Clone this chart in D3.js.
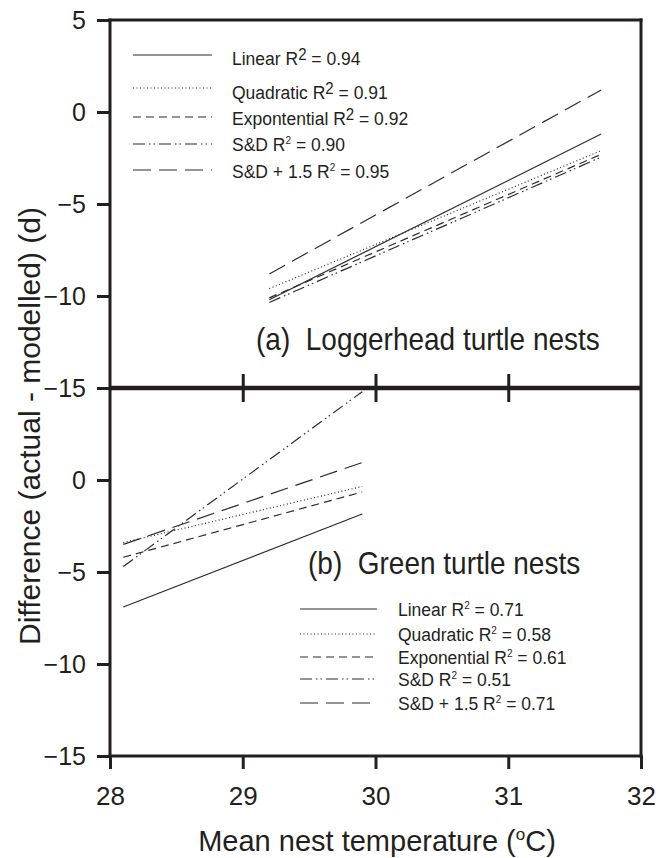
<!DOCTYPE html>
<html>
<head>
<meta charset="utf-8">
<script src="https://cdn.jsdelivr.net/npm/d3@7"></script>
<style>
  body { margin: 0; background: #fff }
  svg { display: block; font-family: 'Liberation Sans', Arial, sans-serif }
  text { fill: #231f20 }
</style>
</head>
<body>
<svg id="chart" width="658" height="858"></svg>
<script>
var xTicks = [28, 29, 30, 31, 32]
var yTicksTop = [5, 0, -5, -10, -15]
var yTicksBottom = [0, -5, -10, -15]

var modelsTop = ['Linear', 'Quadratic', 'Expontential', 'S&D', 'S&D + 1.5']
var modelsBottom = ['Linear', 'Quadratic', 'Exponential', 'S&D', 'S&D + 1.5']
var r2Top = ['0.94', '0.91', '0.92', '0.90', '0.95']
var r2Bottom = ['0.71', '0.58', '0.61', '0.51', '0.71']

// (a) loggerhead: fitted lines, value at each end temperature
var loggerheadTemp = [29.2, 31.7]
var loggerheadLinear = [-10.2, -1.2]
var loggerheadQuadratic = [-9.6, -2.1]
var loggerheadExponential = [-10.1, -2.3]
var loggerheadSD = [-10.35, -2.45]
var loggerheadSD15 = [-8.8, 1.2]

// (b) green turtle
var greenTemp = [28.1, 29.9]
var greenLinear = [-6.9, -1.85]
var greenQuadratic = [-3.4, -0.35]
var greenExponential = [-4.2, -0.65]
var greenSD = [-4.7, 4.8]
var greenSD15 = [-3.5, 0.95]

var DASHES = [null, '1,2.5', '8,5', '12,4,1.5,3,1.5,4', '18,8']
var INK = '#231f20'
var STRETCH = 1.15

var svg = d3.select('#chart')
var x = d3.scaleLinear().domain([28, 32]).range([110, 641])
var yTop = d3.scaleLinear().domain([-15, 5]).range([388, 20])
var yBottom = d3.scaleLinear().domain([-15, 5]).range([756, 388])

function drawFits (y, temps, series) {
  var line = d3.line()
    .x(function (d) { return x(d[0]) })
    .y(function (d) { return y(d[1]) })
  series.forEach(function (values, i) {
    var pts = temps.map(function (t, j) { return [t, values[j]] })
    svg.append('path').datum(pts)
      .attr('d', line)
      .attr('fill', 'none')
      .attr('stroke', '#2b2b2b')
      .attr('stroke-width', 1.2)
      .attr('stroke-dasharray', DASHES[i])
  })
}

drawFits(yTop, loggerheadTemp, [loggerheadLinear, loggerheadQuadratic, loggerheadExponential, loggerheadSD, loggerheadSD15])
drawFits(yBottom, greenTemp, [greenLinear, greenQuadratic, greenExponential, greenSD, greenSD15])

function styleAxis (g, size) {
  g.attr('font-size', null).attr('font-family', null)
  g.select('.domain').remove()
  g.selectAll('.tick line').attr('stroke', INK).attr('stroke-width', 3)
  g.selectAll('.tick text').attr('font-size', size).attr('fill', INK)
}

svg.append('g').attr('transform', 'translate(110,0)')
  .call(d3.axisLeft(yTop).tickValues(yTicksTop).tickSize(13).tickPadding(11))
  .call(styleAxis, 25)
svg.append('g').attr('transform', 'translate(110,0)')
  .call(d3.axisLeft(yBottom).tickValues(yTicksBottom).tickSize(13).tickPadding(11))
  .call(styleAxis, 25)

svg.append('g').attr('transform', 'translate(0,756)')
  .call(d3.axisBottom(x).tickValues(xTicks).tickSize(13).tickPadding(18).tickFormat(d3.format('d')))
  .call(styleAxis, 26)

// ticks crossing the shared middle line
svg.append('g').attr('transform', 'translate(0,388)')
  .call(d3.axisBottom(x).tickValues([29, 30, 31]).tickSize(14).tickFormat(''))
  .call(styleAxis, 0)
svg.append('g').attr('transform', 'translate(0,388)')
  .call(d3.axisTop(x).tickValues([29, 30, 31]).tickSize(14).tickFormat(''))
  .call(styleAxis, 0)

// frame
var frame = [
  [110, 20, 110, 756], [641, 20, 641, 756],
  [110, 20, 641, 20], [110, 756, 641, 756]
]
svg.selectAll('line.frame').data(frame).join('line')
  .attr('class', 'frame')
  .attr('x1', function (d) { return d[0] }).attr('y1', function (d) { return d[1] })
  .attr('x2', function (d) { return d[2] }).attr('y2', function (d) { return d[3] })
  .attr('stroke', INK).attr('stroke-width', 3).attr('stroke-linecap', 'square')
svg.append('line')
  .attr('x1', 110).attr('x2', 641).attr('y1', 388).attr('y2', 388)
  .attr('stroke', INK).attr('stroke-width', 4.5)

function drawLegend (names, r2s, x0, x1, tx, lineY, textY, supBig) {
  var g = svg.append('g').attr('font-size', 17.5)
  names.forEach(function (name, i) {
    g.append('line')
      .attr('x1', x0).attr('x2', x1).attr('y1', lineY[i]).attr('y2', lineY[i])
      .attr('stroke', '#2b2b2b').attr('stroke-width', 1.2)
      .attr('stroke-dasharray', DASHES[i])
    var t = g.append('text')
      .attr('transform', 'translate(' + tx + ',' + textY[i] + ') scale(1,1.05)')
    t.append('tspan').text(name + ' R')
    var big = supBig[i]
    t.append('tspan').attr('font-size', big ? 15 : 10).attr('dy', big ? -5 : -7).text('2')
    t.append('tspan').attr('dy', big ? 5 : 7).text(' = ' + r2s[i])
  })
}

drawLegend(modelsTop, r2Top, 133, 212, 232,
  [55, 88, 117, 144, 170], [65, 99, 125, 151, 178], [true, true, true, false, false])
drawLegend(modelsBottom, r2Bottom, 300, 377, 398,
  [609, 634, 657, 679, 703], [616, 641, 664, 686, 710], [false, false, false, false, false])

svg.append('text')
  .attr('transform', 'translate(256,350) scale(1,' + STRETCH + ')')
  .attr('font-size', 28)
  .attr('xml:space', 'preserve')
  .text('(a)  Loggerhead turtle nests')
svg.append('text')
  .attr('transform', 'translate(308,574) scale(1,' + STRETCH + ')')
  .attr('font-size', 28)
  .attr('xml:space', 'preserve')
  .text('(b)  Green turtle nests')

var xTitle = svg.append('text')
  .attr('transform', 'translate(377,851)')
  .attr('text-anchor', 'middle')
  .attr('font-size', 29)
xTitle.append('tspan').text('Mean nest temperature (')
xTitle.append('tspan').attr('font-size', 17).attr('dy', -11).text('o')
xTitle.append('tspan').attr('dy', 11).text('C)')

svg.append('text')
  .attr('transform', 'translate(40,426) rotate(-90)')
  .attr('text-anchor', 'middle')
  .attr('font-size', 30)
  .text('Difference (actual - modelled) (d)')
</script>
</body>
</html>
